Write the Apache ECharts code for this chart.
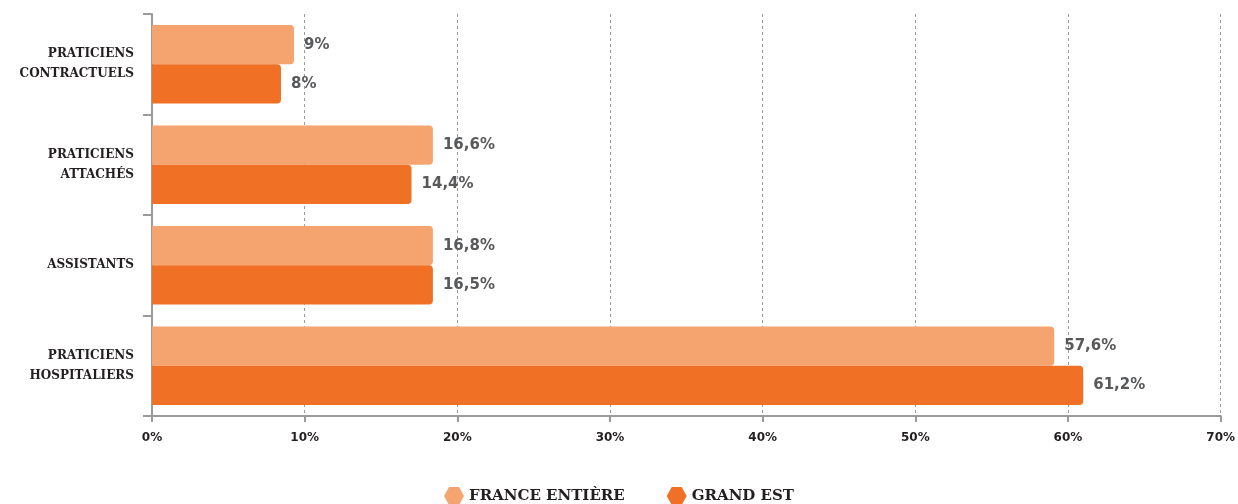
<!DOCTYPE html>
<html>
<head>
<meta charset="utf-8">
<script src="https://cdn.jsdelivr.net/npm/echarts@6/dist/echarts.min.js"></script>
<style>
  html, body { margin: 0; padding: 0; background: #fff; }
  #chart { width: 1238px; height: 504px; }
</style>
</head>
<body>
<div id="chart"></div>
<script>
// categories, top to bottom
var categories = ["PRATICIENS\nCONTRACTUELS", "PRATICIENS\nATTACHÉS", "ASSISTANTS", "PRATICIENS\nHOSPITALIERS"];
// bar lengths as drawn in the picture (%)
var franceValues = [9.3, 18.4, 18.4, 59.1];
var grandEstValues = [8.45, 17.0, 18.4, 61.0];
// labels printed next to the bars
var franceLabels = ["9%", "16,6%", "16,8%", "57,6%"];
var grandEstLabels = ["8%", "14,4%", "16,5%", "61,2%"];
var xTicks = [0, 10, 20, 30, 40, 50, 60, 70];

var slab = "DejaVu Serif";
var sans = "DejaVu Sans";
var hexagon = "path://M5,0 L15,0 L20,9 L15,18 L5,18 L0,9 Z";

var myChart = echarts.init(document.getElementById("chart"));

function makeSeries(name, values, labels, color) {
  return {
    name: name,
    type: "bar",
    barGap: "0%",
    barCategoryGap: "22%",
    data: values,
    itemStyle: { color: color, borderRadius: [0, 4, 4, 0] },
    label: {
      show: true,
      position: "right",
      distance: 10,
      color: "#58595b",
      fontFamily: sans,
      fontWeight: "bold",
      fontSize: 15,
      formatter: function (p) { return labels[p.dataIndex]; }
    }
  };
}

var options = {
  animation: false,
  grid: { left: 152, right: 17, top: 14, bottom: 88 },
  legend: {
    bottom: -6,
    left: "center",
    itemWidth: 20,
    itemHeight: 18,
    itemGap: 42,
    textStyle: { fontFamily: slab, fontWeight: "bold", fontSize: 15, color: "#231f20" },
    data: [
      { name: "FRANCE ENTIÈRE", icon: hexagon },
      { name: "GRAND EST", icon: hexagon }
    ]
  },
  xAxis: {
    type: "value",
    min: xTicks[0],
    max: xTicks[xTicks.length - 1],
    interval: 10,
    axisLine: { show: true, lineStyle: { color: "#9a9a9a", width: 2 } },
    axisTick: { show: true, length: 6, lineStyle: { color: "#9a9a9a", width: 2 } },
    axisLabel: {
      margin: 16,
      color: "#231f20",
      fontFamily: sans,
      fontWeight: "bold",
      fontSize: 12,
      formatter: "{value}%"
    },
    splitLine: { show: true, lineStyle: { color: "#9a9a9a", type: [3, 3], width: 1 } }
  },
  yAxis: {
    type: "category",
    inverse: true,
    data: categories,
    axisLine: { show: true, lineStyle: { color: "#9a9a9a", width: 2 } },
    axisTick: { show: true, length: 9, lineStyle: { color: "#9a9a9a", width: 2 } },
    axisLabel: {
      margin: 18,
      color: "#231f20",
      fontFamily: slab,
      fontWeight: "bold",
      fontSize: 12,
      lineHeight: 20
    }
  },
  series: [
    makeSeries("FRANCE ENTIÈRE", franceValues, franceLabels, "#f5a470"),
    makeSeries("GRAND EST", grandEstValues, grandEstLabels, "#f07026")
  ]
};

myChart.setOption(options, true);
</script>
</body>
</html>
